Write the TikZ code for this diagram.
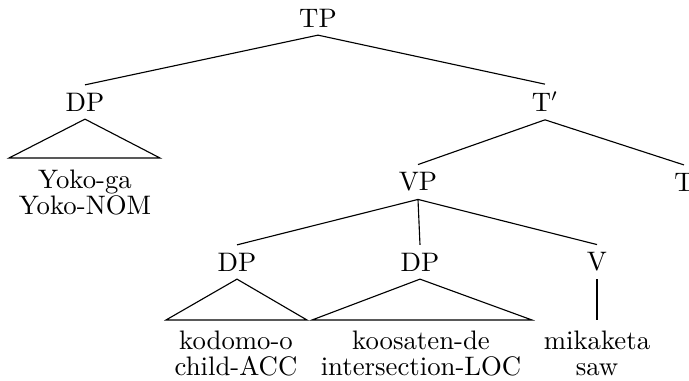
\documentclass[tikz,border=0pt]{standalone}
\begin{document}
\begin{tikzpicture}[x=0.4pt,y=-0.4pt,
  lab/.style={inner sep=3pt, font=\fontsize{10.7}{12}\selectfont},
  word/.style={inner sep=0pt, anchor=base, font=\fontsize{10.7}{12}\selectfont},
  br/.style={line width=0.45pt}]
\useasboundingbox (0,0) rectangle (689,381);
\node[lab] (TP) at (318,18) {TP};
\node[lab] (DPa) at (85,102) {DP};
\node[lab] (Tbar) at (545,102) {T$'$};
\node[lab] (VP) at (418,182) {VP};
\node[lab] (T) at (684,182) {T};
\node[lab] (DPb) at (237,262) {DP};
\node[lab] (DPc) at (420,262) {DP};
\node[lab] (V) at (597,262) {V};
\coordinate (a1) at (9,158); \coordinate (a2) at (160,158);
\coordinate (b1) at (166,320); \coordinate (b2) at (307,320);
\coordinate (c1) at (312,320); \coordinate (c2) at (532,320);
\coordinate (v1) at (597,320);
\node[word] (w1) at (85,188) {Yoko-ga};
\node[word] (g1) at (85,214) {Yoko-NOM};
\node[word] (w2) at (236,349) {kodomo-o};
\node[word] (g2) at (236,375) {child-ACC};
\node[word] (w3) at (421,349) {koosaten-de};
\node[word] (g3) at (421,375) {intersection-LOC};
\node[word] (w4) at (597,349) {mikaketa};
\node[word] (g4) at (597,375) {saw};
\draw[br] (TP.south) -- (DPa.north);
\draw[br] (TP.south) -- (Tbar.north);
\draw[br] (DPa.south) -- (a1) -- (a2) -- cycle;
\draw[br] (Tbar.south) -- (VP.north);
\draw[br] (Tbar.south) -- (T.north);
\draw[br] (VP.south) -- (DPb.north);
\draw[br] (VP.south) -- (DPc.north);
\draw[br] (VP.south) -- (V.north);
\draw[br] (DPb.south) -- (b1) -- (b2) -- cycle;
\draw[br] (DPc.south) -- (c1) -- (c2) -- cycle;
\draw[br] (V.south) -- (v1);
\end{tikzpicture}
\end{document}
